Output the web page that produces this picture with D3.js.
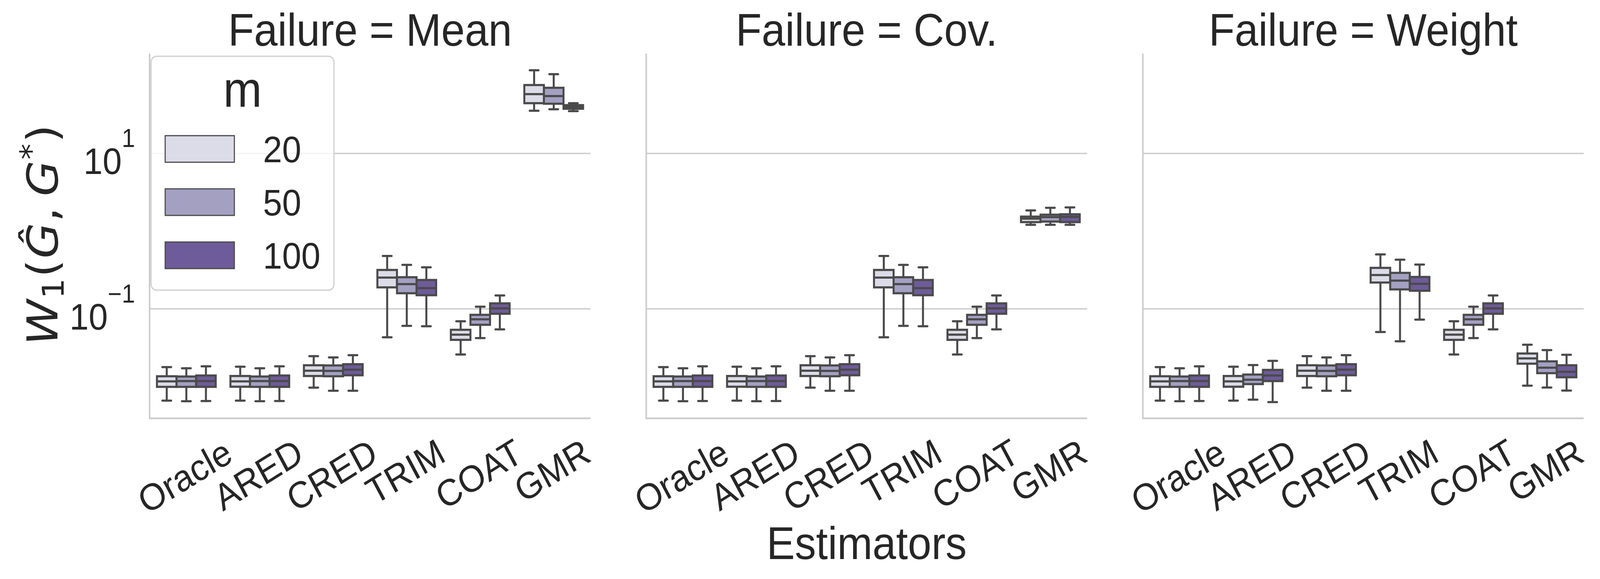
<!DOCTYPE html>
<html><head><meta charset="utf-8">
<script src="https://cdn.jsdelivr.net/npm/d3@7"></script>
<style>html,body{margin:0;padding:0;background:#fff;width:100%;height:100%;overflow:hidden;} svg{display:block;width:100vw;height:100vh;}</style>
</head><body>
<svg id="chart" viewBox="0 0 4417 1481" preserveAspectRatio="none"></svg>
<script>
// ---------------- data ----------------
const estimators = ["Oracle", "ARED", "CRED", "TRIM", "COAT", "GMR"];
const failureModes = ["Mean", "Cov.", "Weight"];
const mLevels = ["20", "50", "100"];
const yTickValues = [0.1, 10];
const xLabel = "Estimators";
const legendTitle = "m";

// each entry: [lower whisker, Q1, median, Q3, upper whisker], one per estimator
const meanM20  = [[0.00656,0.00986,0.0116,0.0135,0.0177],[0.00656,0.00990,0.0116,0.0136,0.0179],[0.00963,0.0136,0.0159,0.0187,0.0245],[0.0428,0.188,0.251,0.315,0.477],[0.0257,0.0397,0.0463,0.0535,0.0689],[35.3,44.1,57.7,75.5,117]];
const meanM50  = [[0.00644,0.00986,0.0117,0.0134,0.0171],[0.00644,0.00986,0.0117,0.0134,0.0171],[0.00878,0.0135,0.0158,0.0186,0.0236],[0.0601,0.158,0.207,0.254,0.366],[0.0419,0.0620,0.0730,0.0833,0.106],[36.8,43.4,54.5,69.6,104]];
const meanM100 = [[0.00648,0.00986,0.0117,0.0138,0.0181],[0.00648,0.00986,0.0117,0.0138,0.0181],[0.00878,0.0139,0.0164,0.0193,0.0252],[0.0594,0.149,0.184,0.234,0.341],[0.0541,0.0860,0.101,0.117,0.148],[34.8,37.4,39.6,41.6,44.1]];

const covM20  = [[0.00656,0.00986,0.0116,0.0135,0.0177],[0.00656,0.00990,0.0116,0.0136,0.0179],[0.00963,0.0136,0.0159,0.0187,0.0245],[0.0428,0.188,0.251,0.315,0.477],[0.0257,0.0397,0.0463,0.0535,0.0689],[1.20,1.30,1.44,1.53,1.84]];
const covM50  = [[0.00644,0.00986,0.0117,0.0134,0.0171],[0.00644,0.00986,0.0117,0.0134,0.0171],[0.00878,0.0135,0.0158,0.0186,0.0236],[0.0601,0.158,0.207,0.254,0.366],[0.0419,0.0620,0.0730,0.0833,0.106],[1.20,1.32,1.51,1.62,1.99]];
const covM100 = [[0.00648,0.00986,0.0117,0.0138,0.0181],[0.00648,0.00986,0.0117,0.0138,0.0181],[0.00878,0.0139,0.0164,0.0193,0.0252],[0.0594,0.149,0.184,0.234,0.341],[0.0541,0.0860,0.101,0.117,0.148],[1.20,1.30,1.52,1.64,2.01]];

const weightM20  = [[0.00656,0.00986,0.0116,0.0135,0.0177],[0.00656,0.00990,0.0116,0.0136,0.0179],[0.00963,0.0136,0.0159,0.0187,0.0245],[0.0501,0.217,0.271,0.335,0.499],[0.0257,0.0397,0.0463,0.0535,0.0689],[0.0102,0.0196,0.0229,0.0265,0.0344]];
const weightM50  = [[0.00644,0.00986,0.0117,0.0134,0.0171],[0.00675,0.0107,0.0122,0.0142,0.0188],[0.00878,0.0135,0.0158,0.0186,0.0236],[0.0380,0.177,0.230,0.289,0.427],[0.0419,0.0620,0.0730,0.0833,0.106],[0.00966,0.0148,0.0174,0.0210,0.0293]];
const weightM100 = [[0.00648,0.00986,0.0117,0.0138,0.0181],[0.00627,0.0117,0.0138,0.0163,0.0213],[0.00878,0.0139,0.0164,0.0193,0.0252],[0.0723,0.170,0.209,0.256,0.369],[0.0541,0.0860,0.101,0.117,0.148],[0.00883,0.0131,0.0154,0.0187,0.0255]];

const panelSeries = [
  [meanM20, meanM50, meanM100],
  [covM20, covM50, covM100],
  [weightM20, weightM50, weightM100]
];

// ---------------- style / layout ----------------
const fills = ["#dcdce9", "#a3a0c2", "#6e5b99"];
const lineGray = "#4a4a4a";
const textCol = "#262626";
const gridCol = "#cccccc";
const sansFont = "'Liberation Sans', Arial, sans-serif";
const mathFont = "'DejaVu Sans', sans-serif";

const panelX = [413, 1784, 3155];
const panelW = 1217;
const plotTop = 137, plotBottom = 1070;
const yDomain = [Math.pow(10, -2.411), Math.pow(10, 2.283)];

const svg = d3.select("#chart");
svg.append("rect").attr("width", 4417).attr("height", 1481).attr("fill", "#fff");

const y = d3.scaleLog().domain(yDomain).range([plotBottom, plotTop]);

failureModes.forEach((fm, pi) => {
  const x0 = panelX[pi];
  const g = svg.append("g");
  const x = d3.scaleBand().domain(estimators).range([x0, x0 + panelW]).padding(0);
  const xh = d3.scaleBand().domain(mLevels).range([0.1 * x.bandwidth(), 0.9 * x.bandwidth()]).padding(0);

  // grid lines
  g.append("g")
    .attr("transform", `translate(${x0},0)`)
    .call(d3.axisLeft(y).tickValues(yTickValues).tickSize(-panelW).tickFormat(""))
    .call(a => a.select(".domain").remove())
    .selectAll("line").attr("stroke", gridCol).attr("stroke-width", 3.5);

  // boxes
  const bw = xh.bandwidth();
  const cw = bw * 0.45;
  mLevels.forEach((m, mi) => {
    const series = panelSeries[pi][mi];
    series.forEach((s, ci) => {
      const [lo, q1, med, q3, hi] = s;
      const cx = x(estimators[ci]) + xh(m) + bw / 2;
      const bg = g.append("g").attr("stroke", lineGray).attr("stroke-width", 5.5);
      bg.append("line").attr("x1", cx).attr("x2", cx).attr("y1", y(q3)).attr("y2", y(hi)).attr("stroke-linecap", "round");
      bg.append("line").attr("x1", cx).attr("x2", cx).attr("y1", y(q1)).attr("y2", y(lo)).attr("stroke-linecap", "round");
      bg.append("line").attr("x1", cx - cw / 2).attr("x2", cx + cw / 2).attr("y1", y(hi)).attr("y2", y(hi)).attr("stroke-linecap", "round");
      bg.append("line").attr("x1", cx - cw / 2).attr("x2", cx + cw / 2).attr("y1", y(lo)).attr("y2", y(lo)).attr("stroke-linecap", "round");
      bg.append("rect").attr("x", cx - bw / 2).attr("width", bw)
        .attr("y", y(q3)).attr("height", y(q1) - y(q3))
        .attr("fill", fills[mi]);
      bg.append("line").attr("x1", cx - bw / 2).attr("x2", cx + bw / 2).attr("y1", y(med)).attr("y2", y(med));
    });
  });

  // spines
  g.append("line").attr("x1", x0).attr("x2", x0).attr("y1", plotTop).attr("y2", plotBottom)
    .attr("stroke", gridCol).attr("stroke-width", 4.3);
  g.append("line").attr("x1", x0 - 2).attr("x2", x0 + panelW).attr("y1", plotBottom).attr("y2", plotBottom)
    .attr("stroke", gridCol).attr("stroke-width", 4.3);

  // title
  g.append("text").attr("x", x0 + panelW / 2).attr("y", 117)
    .attr("text-anchor", "middle").attr("font-family", sansFont).attr("font-size", 117)
    .attr("fill", textCol).text(`Failure = ${fm}`);

  // x tick labels, rotated 30 deg, bbox centred on tick
  estimators.forEach(est => {
    const tx = x(est) + x.bandwidth() / 2;
    const tg = g.append("g");
    const t = tg.append("text").attr("text-anchor", "middle").attr("font-family", sansFont)
      .attr("font-size", 95).attr("fill", textCol).attr("y", 24.5).text(est);
    const w = t.node().getComputedTextLength();
    const hBox = 89;
    const Hrot = w * 0.5 + hBox * 0.866;
    tg.attr("transform", `translate(${tx},${1117 + Hrot / 2}) rotate(-30)`);
  });

  // y tick labels on first panel
  if (pi === 0) {
    yTickValues.forEach(v => {
      const e = Math.round(Math.log10(v));
      const t = g.append("text").attr("x", 373).attr("y", y(v) + 53)
        .attr("text-anchor", "end").attr("font-family", sansFont).attr("fill", textCol).attr("font-size", 95);
      t.append("tspan").text("10");
      t.append("tspan").attr("dy", -69).attr("font-size", 66).text(e < 0 ? "\u2212" + Math.abs(e) : String(e));
    });
  }

  // legend on first panel
  if (pi === 0) {
    const lg = g.append("g");
    lg.append("rect").attr("x", 417).attr("y", 144).attr("width", 505).attr("height", 598).attr("rx", 15)
      .attr("fill", "#ffffff").attr("fill-opacity", 0.8).attr("stroke", "#d4d4d4").attr("stroke-width", 3.6);
    lg.append("text").attr("x", 669.5).attr("y", 273.5).attr("text-anchor", "middle")
      .attr("font-family", sansFont).attr("font-size", 128).attr("fill", textCol).text(legendTitle);
    mLevels.forEach((m, mi) => {
      const yy = 347 + mi * 136;
      lg.append("rect").attr("x", 456).attr("y", yy).attr("width", 191).attr("height", 68)
        .attr("fill", fills[mi]).attr("stroke", lineGray).attr("stroke-width", 3);
      lg.append("text").attr("x", 726).attr("y", yy + 68).attr("font-family", sansFont)
        .attr("font-size", 95).attr("fill", textCol).text(m);
    });
  }
});

// x axis label
svg.append("text").attr("x", panelX[1] + panelW / 2).attr("y", 1430).attr("text-anchor", "middle")
  .attr("font-family", sansFont).attr("font-size", 117).attr("fill", textCol).text(xLabel);

// y axis label (math)
const yl = svg.append("text").attr("transform", "translate(158,601) rotate(-90)")
  .attr("text-anchor", "middle").attr("font-family", mathFont).attr("font-size", 118).attr("fill", textCol)
  .attr("textLength", 564).attr("lengthAdjust", "spacing");
yl.append("tspan").attr("font-style", "italic").text("W");
yl.append("tspan").attr("font-size", 82).attr("dy", 18).text("1");
yl.append("tspan").attr("dy", -18).text("(");
yl.append("tspan").attr("font-style", "italic").text("\u011C");
yl.append("tspan").text(",\u2009");
yl.append("tspan").attr("font-style", "italic").text("G");
yl.append("tspan").attr("font-size", 82).attr("dy", -44).text("*");
yl.append("tspan").attr("dy", 44).text(")");
</script>
</body></html>
